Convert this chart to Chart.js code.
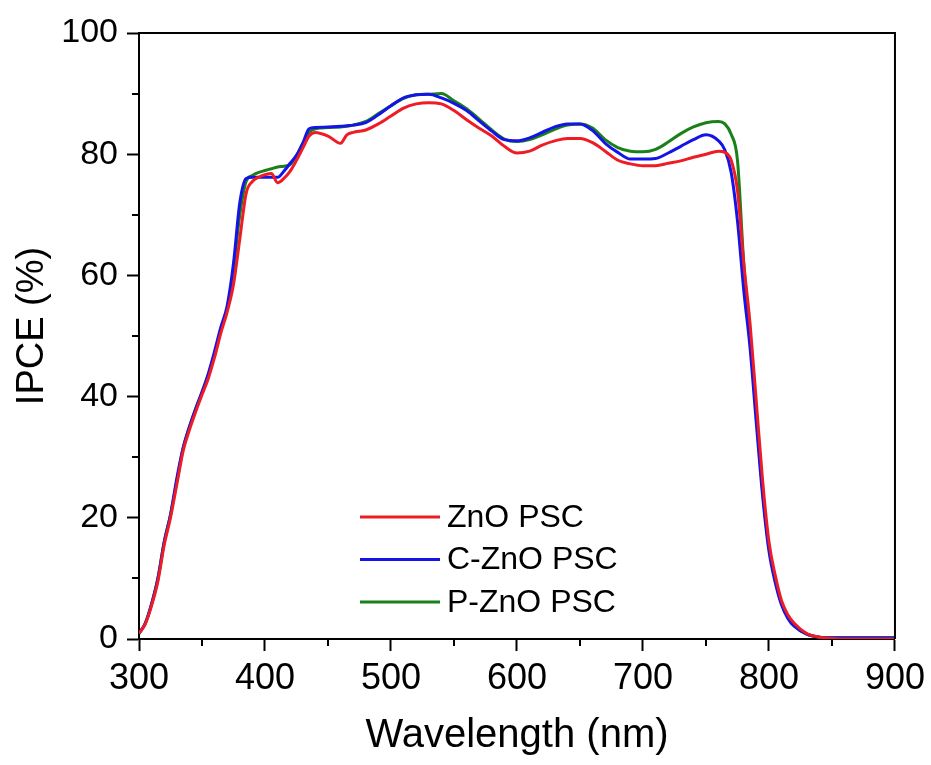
<!DOCTYPE html>
<html>
<head>
<meta charset="utf-8">
<script src="https://cdn.jsdelivr.net/npm/chart.js"></script>
<style>
    html, body { margin: 0; padding: 0; background: #ffffff; }
    #wrap { width: 931px; height: 765px; }
</style>
</head>
<body>
<div id="wrap"><canvas id="ipceChart" width="931" height="765"></canvas></div>
<script>
// IPCE spectra (nm, %)
const wavelength = [300, 305, 310, 315, 320, 325, 330, 335, 340, 345, 350, 355, 360, 365, 370, 375, 380, 385, 390, 395,
    400, 405, 410, 415, 420, 425, 430, 435, 440, 450, 460, 465, 470, 480, 490, 500, 510, 520, 530, 540,
    550, 560, 570, 580, 590, 600, 610, 620, 630, 640, 650, 660, 670, 680, 690, 700, 710, 720, 730, 740,
    750, 760, 765, 770, 775, 780, 785, 790, 795, 800, 805, 810, 815, 820, 830, 840, 850, 860, 880, 900];

const znoPsc = [0.9, 2.5, 5.5, 9.5, 15.5, 20, 25.5, 31, 34.5, 37.5, 40.3, 43, 46.5, 50.5, 54, 58.5, 66, 73.5, 75.5, 76.2,
    76.6, 76.8, 75.3, 76, 77.2, 79, 81, 83, 83.6, 83, 81.8, 83.2, 83.6, 84, 85, 86.3, 87.6, 88.3, 88.5, 88.3,
    87.2, 85.7, 84.3, 83, 81.3, 80.2, 80.5, 81.5, 82.2, 82.6, 82.6, 81.9, 80.5, 79, 78.4, 78.1, 78.1, 78.5, 78.9, 79.5,
    80, 80.5, 80.3, 79, 74, 62, 52, 39, 26, 16, 10.5, 6.3, 4, 2.6, 0.9, 0.3, 0.1, 0, 0, 0];

const cZnoPsc = [0.9, 2.6, 5.8, 10, 16, 20.5, 26.5, 31.5, 35, 38, 40.8, 43.8, 47.5, 51.5, 55, 62, 72, 76, 76.2, 76.2,
    76.2, 76.2, 76.2, 77.2, 78.5, 79.8, 81.8, 84.2, 84.4, 84.5, 84.6, 84.7, 84.8, 85.2, 86.5, 88, 89.3, 89.8, 89.9, 89.3,
    88.4, 87.2, 85.5, 83.8, 82.4, 82.2, 82.7, 83.6, 84.5, 85, 85, 83.9, 81.8, 80.3, 79.2, 79.2, 79.3, 80.2, 81.3, 82.4,
    83.2, 82.2, 80.7, 77, 69, 57.5, 48, 35.5, 23.5, 14.5, 9.3, 5.6, 3.4, 2.1, 0.8, 0.3, 0.2, 0.2, 0.2, 0.2];

const pZnoPsc = [0.9, 2.6, 5.8, 10, 16, 20.5, 26, 31.5, 35, 38, 40.6, 43.5, 47, 51, 54.5, 61, 70, 75.5, 76.5, 77,
    77.3, 77.6, 77.9, 78, 78.3, 79.8, 81.8, 83.6, 84.2, 84.4, 84.5, 84.6, 84.8, 85.4, 86.7, 88, 89.2, 89.8, 89.9, 90,
    88.8, 87.5, 85.8, 84, 82.5, 82.1, 82.4, 83.2, 84.1, 84.8, 85, 84.3, 82.4, 81.1, 80.5, 80.4, 80.8, 82, 83.4, 84.5,
    85.2, 85.4, 85, 83.3, 79, 62, 50, 37, 24.5, 15, 9.8, 5.9, 3.6, 2.2, 0.8, 0.3, 0.2, 0.2, 0.2, 0.2];

const seriesLabels = ['ZnO PSC', 'C-ZnO PSC', 'P-ZnO PSC'];
const seriesColors = ['#ee1c24', '#1414e6', '#1a801a'];

const xMajorTicks = [300, 400, 500, 600, 700, 800, 900];
const xMinorTicks = [350, 450, 550, 650, 750, 850];
const yMajorTicks = [0, 20, 40, 60, 80, 100];
const yMinorTicks = [10, 30, 50, 70, 90];

const FONT = '"Liberation Sans", Arial, sans-serif';

function toPoints(values) {
    return wavelength.map((w, i) => ({ x: w, y: values[i] }));
}

// Full frame, minor ticks (outward), y title and the legend inside the plot
const framePlugin = {
    id: 'frameAndMinor',
    afterDraw(chart) {
        const c = chart.ctx;
        const area = chart.chartArea;
        const xs = chart.scales.x;
        const ys = chart.scales.y;
        c.save();
        c.strokeStyle = '#000';
        c.lineWidth = 2;
        c.beginPath();
        c.moveTo(area.left, area.top);
        c.lineTo(area.right, area.top);
        c.lineTo(area.right, area.bottom);
        c.stroke();
        // minor ticks
        c.beginPath();
        xMinorTicks.forEach(v => {
            const px = Math.round(xs.getPixelForValue(v));
            c.moveTo(px, area.bottom);
            c.lineTo(px, area.bottom + 7);
        });
        yMinorTicks.forEach(v => {
            const py = Math.round(ys.getPixelForValue(v));
            c.moveTo(area.left, py);
            c.lineTo(area.left - 7, py);
        });
        c.stroke();

        // y axis title
        c.translate(33, area.top + (area.bottom - area.top) / 2 - 10);
        c.rotate(-Math.PI / 2);
        c.font = '38px ' + FONT;
        c.fillStyle = '#000';
        c.textAlign = 'center';
        c.textBaseline = 'middle';
        c.fillText('IPCE (%)', 0, 0);
        c.restore();
    },
    afterDatasetsDraw(chart) {
        const c = chart.ctx;
        const area = chart.chartArea;
        c.save();
        c.font = '32px ' + FONT;
        c.textBaseline = 'middle';
        c.fillStyle = '#000';
        chart.data.datasets.forEach((ds, i) => {
            const y = area.top + 484 + i * 42.5;
            c.strokeStyle = ds.borderColor;
            c.lineWidth = 3;
            c.beginPath();
            c.moveTo(area.left + 221, y);
            c.lineTo(area.left + 301, y);
            c.stroke();
            c.fillText(ds.label, area.left + 308, y + 1);
        });
        c.restore();
    }
};

const ctx = document.getElementById('ipceChart');

new Chart(ctx, {
    type: 'line',
    data: {
        datasets: [
            { label: seriesLabels[0], data: toPoints(znoPsc), borderColor: seriesColors[0] },
            { label: seriesLabels[1], data: toPoints(cZnoPsc), borderColor: seriesColors[1] },
            { label: seriesLabels[2], data: toPoints(pZnoPsc), borderColor: seriesColors[2] }
        ]
    },
    options: {
        responsive: false,
        animation: false,
        layout: {
            padding: { top: 33, right: 36, bottom: 0, left: 0 }
        },
        elements: {
            line: { borderWidth: 3, tension: 0.15, fill: false, cubicInterpolationMode: 'monotone' },
            point: { radius: 0 }
        },
        plugins: {
            legend: { display: false },
            tooltip: { enabled: false }
        },
        scales: {
            x: {
                type: 'linear',
                min: 300,
                max: 900,
                afterFit(scale) { scale.height = 126; },
                afterBuildTicks(scale) { scale.ticks = xMajorTicks.map(v => ({ value: v })); },
                grid: {
                    display: true,
                    drawOnChartArea: false,
                    drawTicks: true,
                    tickLength: 12,
                    tickWidth: 2,
                    tickColor: '#000'
                },
                border: { display: true, color: '#000', width: 2 },
                ticks: {
                    color: '#000',
                    padding: 6,
                    maxRotation: 0,
                    font: { family: FONT, size: 36 }
                },
                title: {
                    display: true,
                    text: 'Wavelength (nm)',
                    color: '#000',
                    padding: { bottom: 5 },
                    font: { family: FONT, size: 40 }
                }
            },
            y: {
                min: 0,
                max: 100,
                afterFit(scale) { scale.width = 139; },
                afterBuildTicks(scale) { scale.ticks = yMajorTicks.map(v => ({ value: v })); },
                grid: {
                    display: true,
                    drawOnChartArea: false,
                    drawTicks: true,
                    tickLength: 12,
                    tickWidth: 2,
                    tickColor: '#000'
                },
                border: { display: true, color: '#000', width: 2 },
                ticks: {
                    color: '#000',
                    padding: 9,
                    font: { family: FONT, size: 34 }
                },
                title: { display: false }
            }
        }
    },
    plugins: [framePlugin]
});
</script>
</body>
</html>
